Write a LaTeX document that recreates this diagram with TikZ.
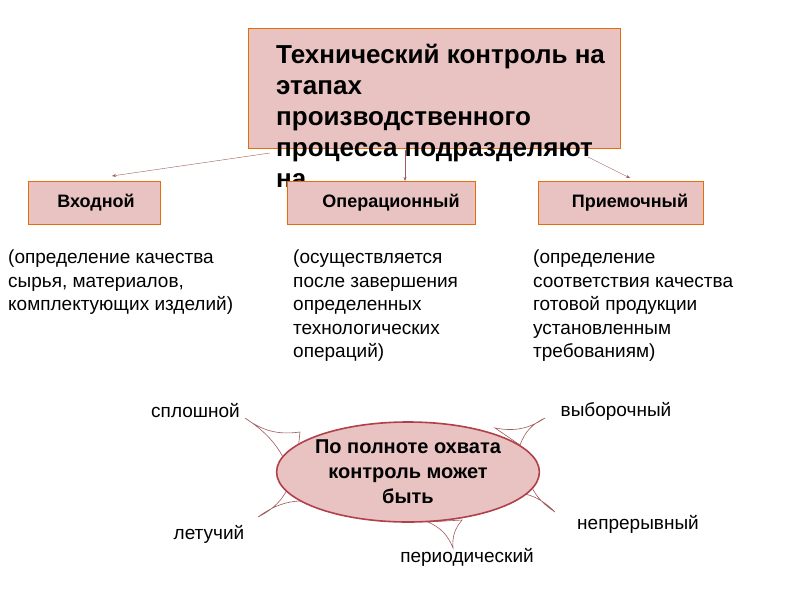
\documentclass[tikz,border=0pt]{standalone}
\usepackage{fontspec}
\setmainfont{Liberation Sans}
\usetikzlibrary{positioning, arrows.meta, shapes.geometric}
\definecolor{boxfill}{HTML}{E8C3C2}
\definecolor{boxline}{HTML}{E46C0A}
\definecolor{spoke}{HTML}{A05A5A}
\definecolor{ellline}{HTML}{B0404A}

\begin{document}
\begin{tikzpicture}[x=1pt, y=-1pt,
    box/.style={draw=boxline, fill=boxfill, thick, inner sep=0pt},
    head/.style={font=\bfseries\fontsize{18}{22}\selectfont},
    desc/.style={anchor=north west, align=left, inner sep=0pt, font=\fontsize{19}{23.5}\selectfont},
    word/.style={inner sep=0pt, font=\fontsize{19}{22}\selectfont},
    arrow/.style={-{Stealth[length=4pt,width=3pt]}, draw=spoke, thin},
    wedge/.style={draw=spoke, fill=white, line width=0.6pt}
]
\useasboundingbox (0,0) rectangle (800,600);

% Title box
\draw[box] (248,28) rectangle (620,148);
\node (title) [anchor=north west, align=left, inner sep=0pt,
  font=\bfseries\fontsize{26}{31}\selectfont] at (276,44)
  {Технический контроль на\\этапах\\производственного\\процесса подразделяют\\на};

% Stage boxes
\draw[box] (28,181) rectangle (160,224);
\node (vhod) [head] at (96,203) {Входной};
\draw[box] (287,181) rectangle (475,224);
\node (oper) [head] at (391,203) {Операционный};
\draw[box] (538,181) rectangle (703,224);
\node (prie) [head] at (630,203) {Приемочный};

% Arrows
\coordinate (aL) at (270,153);
\coordinate (aM) at (405,150);
\coordinate (aR) at (588,157);
\draw[arrow] (aL) -- (112,176);
\draw[arrow] (aM) -- (405,181);
\draw[arrow] (aR) -- (630,178);

% Descriptions
\node (d1) [desc] at (8,250) {(определение качества\\сырья, материалов,\\комплектующих изделий)};
\node (d2) [desc] at (293,250) {(осуществляется\\после завершения\\определенных\\технологических\\операций)};
\node (d3) [desc] at (533,250) {(определение\\соответствия качества\\готовой продукции\\установленным\\требованиям)};

% Spokes
\draw[wedge] (300,432) to[bend left=22] (245,418) to[bend left=22] (294,488) -- cycle;
\draw[wedge] (292,478) to[bend left=22] (258,517) to[bend left=22] (318,502) -- cycle;
\draw[wedge] (428,522) to[bend left=22] (453,548) to[bend left=22] (462,520) -- cycle;
\draw[wedge] (508,492) to[bend left=22] (555,512) to[bend left=22] (526,470) -- cycle;
\draw[wedge] (520,445) to[bend left=22] (545,418) to[bend left=22] (495,428) -- cycle;

% Centre
\node (ell) [ellipse, draw=ellline, fill=boxfill, line width=1.6pt, inner sep=0pt,
  minimum width=244pt, minimum height=100pt, align=center,
  font=\bfseries\fontsize{20}{25}\selectfont] at (408,472)
  {По полноте охвата\\контроль может\\быть};

% Kinds
\node (w1) [word, anchor=east] at (240,411) {сплошной};
\node (w2) [word] at (616,411) {выборочный};
\node (w3) [word] at (209,534) {летучий};
\node (w4) [word] at (638,524) {непрерывный};
\node (w5) [word] at (467,557) {периодический};
\end{tikzpicture}
\end{document}
